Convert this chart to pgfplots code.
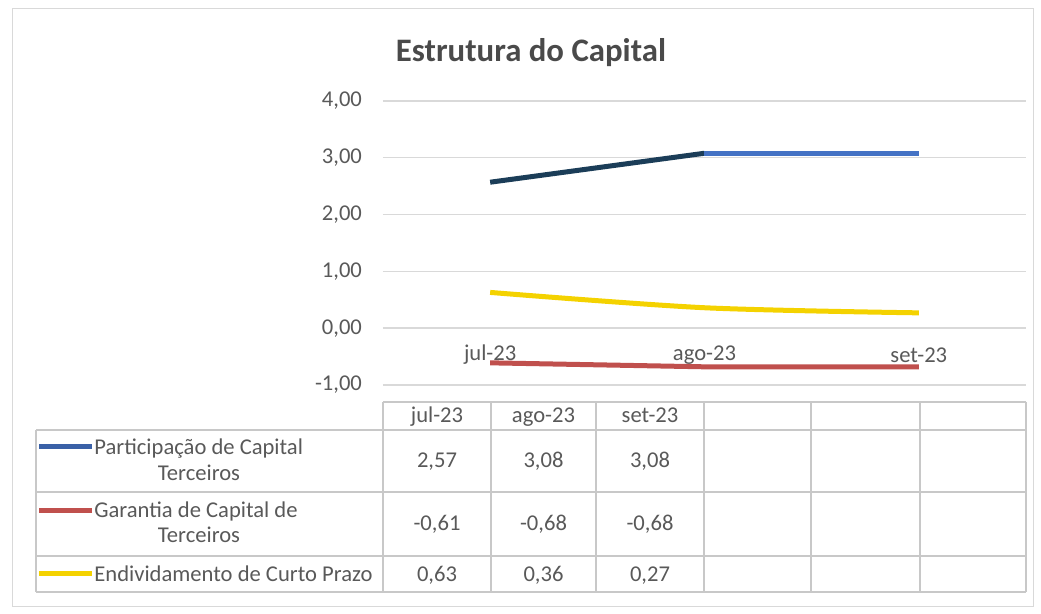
\documentclass[border=0pt]{standalone}
\usepackage{fontspec}
\setmainfont{Carlito}
\usepackage{pgfplots}
\pgfplotsset{compat=1.18}
\definecolor{gridgray}{HTML}{D9D9D9}
\definecolor{tblgray}{HTML}{C8C8C8}
\definecolor{txtgray}{HTML}{595959}
\definecolor{titlegray}{HTML}{4A4A4A}
\definecolor{serblue}{HTML}{4472C4}
\definecolor{serdark}{HTML}{1B3D58}
\definecolor{serred}{HTML}{C0504D}
\definecolor{seryel}{HTML}{F4D200}
\newcommand{\tfont}{\fontsize{11.3}{13}\selectfont}

\begin{document}
\begin{tikzpicture}[x=0.5pt,y=0.5pt]
\useasboundingbox (0,0) rectangle (1041,614);
\draw[gridgray] (12,8) rectangle (1033,606);
\node[anchor=base, font=\bfseries\fontsize{16.4}{19}\selectfont, text=titlegray] at (531,552) {Estrutura do Capital};

\begin{axis}[
  at={(191.5pt,114.5pt)}, anchor=south west,
  scale only axis, width=321.5pt, height=142pt,
  xmin=0, xmax=6, ymin=-1, ymax=4,
  ytick={-1,0,1,2,3,4},
  xtick={1,3,5}, xticklabels={jul-23,ago-23,set-23},
  ymajorgrids, grid style={gridgray, line width=0.7pt},
  axis line style={draw=none},
  major tick length=0pt,
  tick label style={font=\tfont, text=txtgray},
  xticklabel style={anchor=center, yshift=15pt},
  yticklabel style={xshift=-7pt},
  /pgf/number format/fixed, /pgf/number format/fixed zerofill,
  /pgf/number format/precision=2, /pgf/number format/use comma,
  /pgf/number format/assume math mode=true,
  clip=false,
]
% Participação de Capital Terceiros
\addplot[serdark, line width=2.5pt] coordinates {(1,2.57)(3,3.08)};
\addplot[serblue, line width=2.5pt] coordinates {(3,3.08)(5,3.08)};
% Garantia de Capital de Terceiros
\addplot[serred, line width=2.5pt] coordinates {(1,-0.61)(3,-0.68)(5,-0.68)};
% Endividamento de Curto Prazo
\addplot[seryel, line width=2.5pt, smooth] coordinates {(1,0.63)(3,0.36)(5,0.27)};
\end{axis}

% data table
\draw[tblgray, line width=0.6pt] (383,212) -- (1026,212);
\foreach \yy in {184,122,58,22} \draw[tblgray, line width=0.6pt] (36,\yy) -- (1026,\yy);
\draw[tblgray, line width=0.6pt] (36,184) -- (36,22);
\foreach \xx in {383,491,596,704,811,920,1026} \draw[tblgray, line width=0.6pt] (\xx,212) -- (\xx,22);

\begin{scope}[every node/.style={font=\tfont, text=txtgray, anchor=base}]
\node at (437,191) {jul-23};
\node at (543.5,191) {ago-23};
\node at (650,191) {set-23};

\draw[serblue!85!black, line width=2.5pt] (39,167) -- (92,167);
\node[anchor=base west, inner xsep=1pt] at (92,159) {Participação de Capital};
\node at (199,133) {Terceiros};
\node at (437,146) {2,57};
\node at (543.5,146) {3,08};
\node at (650,146) {3,08};

\draw[serred, line width=2.5pt] (39,103) -- (92,103);
\node[anchor=base west, inner xsep=1pt] at (92,96) {Garantia de Capital de};
\node at (199,71) {Terceiros};
\node at (437,83) {-0,61};
\node at (543.5,83) {-0,68};
\node at (650,83) {-0,68};

\draw[seryel, line width=2.5pt] (39,40) -- (92,40);
\node[anchor=base west, inner xsep=1pt] at (92,32) {Endividamento de Curto Prazo};
\node at (437,32) {0,63};
\node at (543.5,32) {0,36};
\node at (650,32) {0,27};
\end{scope}
\end{tikzpicture}
\end{document}
